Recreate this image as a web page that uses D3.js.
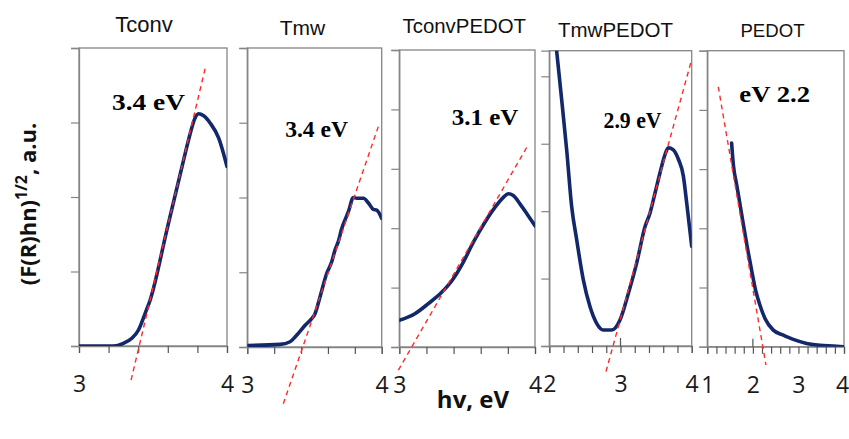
<!DOCTYPE html>
<html>
<head>
<meta charset="utf-8">
<script src="https://cdn.jsdelivr.net/npm/d3@7"></script>
<style>
body { margin: 0; background: #fff; }
svg { display: block; }
</style>
</head>
<body>
<div id="chart"></div>
<script>
var svgWidth = 849;
var svgHeight = 439;

// panel names and band gap labels
var titles = ['Tconv', 'Tmw', 'TconvPEDOT', 'TmwPEDOT', 'PEDOT'];
var gapLabels = ['3.4 eV', '3.4 eV', '3.1 eV', '2.9 eV', 'eV 2.2'];

// axis ranges and tick labels
var xDomains = [[3, 4], [3, 4], [3, 4], [2, 4], [1, 4]];
var xTickLabels = [[3, 4], [3, 4], [3, 4], [2, 3, 4], [1, 2, 3, 4]];
var xMajorUp = [[], [], [], [3], [2]];
var yTops = [4, 4, 5, 4.38, 5];
var yTicks = [[0, 1, 2, 3, 4], [0, 1, 2, 3, 4], [0, 1, 2, 3, 4, 5], [0, 1, 2, 3, 4], [0, 1, 2, 3, 4, 5]];

// spectra: [hv, (F(R)hv)^1/2]
var tconv = [[3.0, 0], [3.232, 0], [3.30, 0.036], [3.357, 0.103], [3.402, 0.215], [3.447, 0.439],
  [3.481, 0.618], [3.594, 1.558], [3.707, 2.499], [3.752, 2.857], [3.781, 3.045], [3.808, 3.117],
  [3.842, 3.09], [3.887, 2.991], [3.944, 2.79], [4.0, 2.409]];
var tmw = [[3.0, 0.02], [3.243, 0.035], [3.318, 0.07], [3.367, 0.156], [3.43, 0.29], [3.479, 0.38],
  [3.504, 0.446], [3.541, 0.67], [3.59, 0.98], [3.628, 1.14], [3.653, 1.3], [3.677, 1.41],
  [3.702, 1.58], [3.727, 1.7], [3.752, 1.81], [3.789, 2.0], [3.814, 1.99], [3.864, 1.99],
  [3.9, 1.93], [3.938, 1.84], [3.963, 1.83], [4.0, 1.72]];
var tconvPedot = [[3.0, 0.448], [3.115, 0.56], [3.214, 0.73], [3.312, 0.92], [3.398, 1.15],
  [3.472, 1.43], [3.545, 1.76], [3.631, 2.1], [3.705, 2.35], [3.767, 2.52], [3.803, 2.58],
  [3.84, 2.55], [3.889, 2.41], [3.95, 2.21], [4.0, 2.04]];
var tmwPedot = [[2.103, 4.38], [2.173, 3.66], [2.244, 2.91], [2.314, 2.07], [2.384, 1.58],
  [2.478, 0.98], [2.571, 0.585], [2.665, 0.337], [2.759, 0.238], [2.876, 0.238], [2.993, 0.387],
  [3.11, 0.78], [3.227, 1.23], [3.344, 1.77], [3.414, 1.97], [3.485, 2.27], [3.555, 2.57],
  [3.625, 2.84], [3.672, 2.94], [3.742, 2.91], [3.813, 2.77], [3.883, 2.52], [3.93, 2.12], [4.0, 1.48]];
var pedot = [[1.534, 3.44], [1.571, 3.08], [1.644, 2.74], [1.717, 2.41], [1.79, 2.07], [1.878, 1.68],
  [1.973, 1.29], [2.061, 0.95], [2.156, 0.7], [2.266, 0.476], [2.448, 0.28], [2.668, 0.196],
  [2.887, 0.123], [3.18, 0.056], [3.473, 0.022], [3.765, 0.011], [3.985, 0]];
var spectra = [tconv, tmw, tconvPedot, tmwPedot, pedot];

// tangent (Tauc) lines
var tconvFit = [[3.352, -0.457], [3.853, 3.73]];
var tmwFit = [[3.268, -0.76], [3.975, 2.95]];
var tconvPedotFit = [[2.993, -0.39], [3.939, 3.36]];
var tmwPedotFit = [[2.796, -0.38], [4.0, 4.25]];
var pedotFit = [[1.241, 4.39], [2.287, -0.31]];
var fits = [tconvFit, tmwFit, tconvPedotFit, tmwPedotFit, pedotFit];

// where the gap labels sit, in data units
var gapLabelAt = [[3.47, 3.17], [3.516, 2.81], [3.632, 3.74], [3.169, 3.23], [2.479, 4.14]];

// panel frames in pixels
var frames = [
  {left: 79, right: 227, top: 48, bottom: 346},
  {left: 247.3, right: 381.7, top: 48, bottom: 347},
  {left: 399.3, right: 535, top: 50, bottom: 347},
  {left: 549.3, right: 691.7, top: 50.7, bottom: 346},
  {left: 707.3, right: 844, top: 50.7, bottom: 346.7}
];
var titlePos = [
  {x: 144, y: 31.7, size: 22}, {x: 302.5, y: 35, size: 21}, {x: 464.3, y: 33, size: 20.4},
  {x: 615.5, y: 36.7, size: 20.5}, {x: 772.5, y: 36.7, size: 18.6}
];
var gapWidths = [73, 63, 66.7, 58, 70.7];

var svg = d3.select('#chart').append('svg')
  .attr('width', svgWidth)
  .attr('height', svgHeight)
  .style('background', '#fff');

var frameColor = '#858585';
var curveColor = '#13286b';

frames.forEach(function(f, i) {
  var xScale = d3.scaleLinear().domain(xDomains[i]).range([f.left, f.right]);
  var yScale = d3.scaleLinear().domain([0, yTops[i]]).range([f.bottom, f.top]);

  var g = svg.append('g');

  g.append('clipPath').attr('id', 'clip' + i)
    .append('rect')
    .attr('x', f.left).attr('y', f.top)
    .attr('width', f.right - f.left).attr('height', f.bottom - f.top);

  // frame
  g.append('rect')
    .attr('x', f.left).attr('y', f.top)
    .attr('width', f.right - f.left).attr('height', f.bottom - f.top)
    .attr('fill', 'none')
    .attr('stroke', frameColor)
    .attr('stroke-width', 1.3);

  // x axis, minor ticks every 0.2 eV
  var x0 = xDomains[i][0], x1 = xDomains[i][1];
  var ticks = d3.range(0, Math.round((x1 - x0) / 0.2) + 1).map(k => x0 + k * 0.2);
  var labelled = xTickLabels[i];
  var xAxis = d3.axisBottom(xScale)
    .tickValues(ticks)
    .tickSize(7)
    .tickPadding(23)
    .tickFormat(function(d) {
      var hit = labelled.find(v => Math.abs(v - d) < 1e-6);
      return hit === undefined ? '' : hit;
    });
  var xg = g.append('g')
    .attr('transform', `translate(0,${f.bottom})`)
    .call(xAxis);
  xg.select('.domain').attr('stroke', frameColor).attr('stroke-width', 1.3);
  xg.selectAll('.tick line').attr('stroke', '#555').attr('stroke-width', 1.2);
  xg.selectAll('.tick text')
    .attr('fill', '#1a1a1a')
    .style('font-family', '"Open Sans", sans-serif')
    .style('font-size', '23px');
  // the right-most label sits against the page edge
  if (i === frames.length - 1) {
    xg.selectAll('.tick text').filter(d => Math.abs(d - x1) < 1e-6).attr('dx', -2);
  }
  // longer tick at the whole eV inside the axis
  g.selectAll('.major')
    .data(xMajorUp[i])
    .enter()
    .append('line')
    .attr('x1', d => xScale(d)).attr('x2', d => xScale(d))
    .attr('y1', f.bottom - 8).attr('y2', f.bottom)
    .attr('stroke', '#555').attr('stroke-width', 1.2);

  // y axis
  var yAxis = d3.axisLeft(yScale)
    .tickValues(yTicks[i])
    .tickSize(8)
    .tickFormat('');
  var yg = g.append('g')
    .attr('transform', `translate(${f.left},0)`)
    .call(yAxis);
  yg.select('.domain').attr('stroke', frameColor).attr('stroke-width', 1.3);
  yg.selectAll('.tick line').attr('stroke', frameColor).attr('stroke-width', 1.2);

  // spectrum
  var line = d3.line()
    .x(d => xScale(d[0]))
    .y(d => yScale(d[1]))
    .curve(d3.curveMonotoneX);
  g.append('path')
    .datum(spectra[i])
    .attr('clip-path', `url(#clip${i})`)
    .attr('d', line)
    .attr('fill', 'none')
    .attr('stroke', curveColor)
    .attr('stroke-width', 3.6)
    .attr('stroke-linejoin', 'round')
    .attr('stroke-linecap', 'round');

  // tangent
  g.append('path')
    .datum(fits[i])
    .attr('d', d3.line().x(d => xScale(d[0])).y(d => yScale(d[1])))
    .attr('fill', 'none')
    .attr('stroke', '#ff2a2a')
    .attr('stroke-width', 1.4)
    .attr('stroke-dasharray', '5,4');

  // band gap label
  g.append('text')
    .attr('x', xScale(gapLabelAt[i][0]))
    .attr('y', yScale(gapLabelAt[i][1]))
    .attr('text-anchor', 'middle')
    .attr('textLength', gapWidths[i])
    .attr('lengthAdjust', 'spacingAndGlyphs')
    .style('font-family', '"Liberation Serif", "Times New Roman", serif')
    .style('font-weight', 'bold')
    .style('font-size', '23px')
    .attr('fill', '#000')
    .text(gapLabels[i]);

  // title
  g.append('text')
    .attr('x', titlePos[i].x)
    .attr('y', titlePos[i].y)
    .attr('text-anchor', 'middle')
    .style('font-family', '"Liberation Sans", Arial, sans-serif')
    .style('font-size', titlePos[i].size + 'px')
    .attr('fill', '#111')
    .text(titles[i]);
});

// y axis title
var yTitle = svg.append('text')
  .attr('transform', 'translate(36,204) rotate(-90)')
  .attr('text-anchor', 'middle')
  .style('font-family', '"Open Sans", sans-serif')
  .style('font-weight', 'bold')
  .style('font-size', '22px')
  .attr('fill', '#111');
yTitle.append('tspan').text('(F(R)hn)');
yTitle.append('tspan').attr('dy', -9).style('font-size', '16px').text('1/2');
yTitle.append('tspan').attr('dy', 9).text(', a.u.');

// x axis title
svg.append('text')
  .attr('x', 473)
  .attr('y', 408)
  .attr('text-anchor', 'middle')
  .style('font-family', '"Open Sans", sans-serif')
  .style('font-weight', 'bold')
  .style('font-size', '24px')
  .attr('fill', '#111')
  .text('hv, eV');
</script>
</body>
</html>
